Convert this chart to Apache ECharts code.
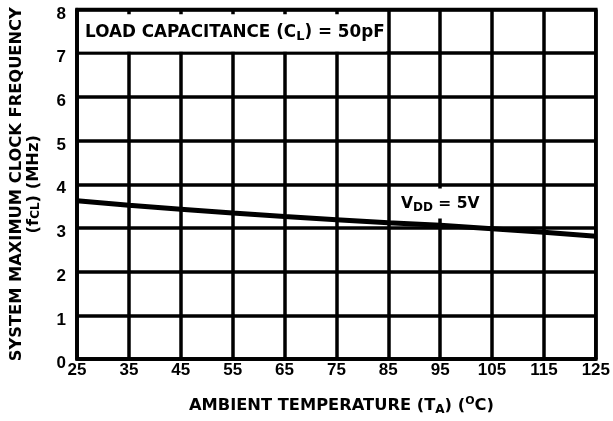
<!DOCTYPE html>
<html><head><meta charset="utf-8">
<script src="https://cdn.jsdelivr.net/npm/echarts@6/dist/echarts.min.js"></script>
<style>html,body{margin:0;padding:0;background:#fff}#c{width:613px;height:421px}</style>
</head><body><div id="c"></div>
<script>
const temps = [25, 35, 45, 55, 65, 75, 85, 95, 105, 115, 125];
const fclVdd5 = [3.62, 3.52, 3.43, 3.34, 3.26, 3.19, 3.12, 3.06, 2.98, 2.90, 2.81];
const xTicks = { min: 25, max: 125, interval: 10 };
const yTicks = { min: 0, max: 8, interval: 1 };
const loadLabel = 'LOAD CAPACITANCE (C{sub|L}) = 50pF';
const vddLabel = 'V{sub|DD} = 5V';
const xTitle = 'AMBIENT TEMPERATURE (T{sub|A}) ({sup|O}C)';
const yTitle1 = 'SYSTEM MAXIMUM CLOCK FREQUENCY';
const yTitle2 = '(f{sub|CL}) (MHz)';

const FONT = '"DejaVu Sans", sans-serif';
const TFONT = '"Liberation Sans", Arial, sans-serif';
const richBase = (fs) => ({
  sub: { fontSize: Math.round(fs*0.75), fontWeight: 'bold', fontFamily: FONT, color: '#000', padding: [Math.round(fs*0.5),0,0,0], verticalAlign: 'bottom' },
  sup: { fontSize: Math.round(fs*0.65), fontWeight: 'bold', fontFamily: FONT, color: '#000', padding: [0,0,Math.round(fs*0.45),0], verticalAlign: 'top' }
});
const LW = 3.5;
const chart = echarts.init(document.getElementById('c'), null, { renderer: 'canvas' });
chart.setOption({
  animation: false,
  backgroundColor: '#fff',
  grid: { left: 77, right: 15, top: 9.5, bottom: 59, show: true, borderColor: '#000', borderWidth: LW, backgroundColor: 'transparent' },
  xAxis: {
    type: 'value', min: xTicks.min, max: xTicks.max, interval: xTicks.interval,
    axisLine: { show: true, lineStyle: { color: '#000', width: LW } },
    axisTick: { show: false },
    splitLine: { show: true, lineStyle: { color: '#000', width: LW } },
    axisLabel: { color: '#000', fontSize: 17, fontWeight: 'bold', fontFamily: TFONT, margin: 3 },
    name: xTitle, nameLocation: 'middle', nameGap: 37,
    nameTextStyle: { color: '#000', fontSize: 16.3, fontWeight: 'bold', fontFamily: FONT, padding: [0, 0, 0, 10], rich: richBase(16.3) }
  },
  yAxis: {
    type: 'value', min: yTicks.min, max: yTicks.max, interval: yTicks.interval,
    axisLine: { show: true, lineStyle: { color: '#000', width: LW } },
    axisTick: { show: false },
    splitLine: { show: true, lineStyle: { color: '#000', width: LW } },
    axisLabel: { color: '#000', fontSize: 17, fontWeight: 'bold', fontFamily: TFONT, margin: 11, verticalAlign: 'top', lineHeight: 9 },
    name: yTitle1 + '\n' + yTitle2, nameLocation: 'middle', nameGap: 35, nameRotate: 90,
    nameTextStyle: { color: '#000', fontSize: 16.3, fontWeight: 'bold', fontFamily: FONT, lineHeight: 17, align: 'center', rich: richBase(16.3) }
  },
  series: [{
    type: 'line',
    data: temps.map((t, i) => [t, fclVdd5[i]]),
    showSymbol: false, symbol: 'none',
    lineStyle: { color: '#000', width: 5 },
    z: 3,
    markArea: {
      silent: true,
      itemStyle: { color: '#fff', opacity: 1 },
      label: {
        show: true, position: 'insideLeft', distance: 6,
        color: '#000', fontSize: 16.8, fontWeight: 'bold', fontFamily: FONT,
        formatter: loadLabel, rich: richBase(16.8)
      },
      data: [[{ coord: [25.4, 7.04] }, { coord: [84.6, 7.89] }]]
    },
    markPoint: {
      silent: true, symbol: 'rect', symbolSize: 0,
      label: {
        show: true, position: 'inside',
        color: '#000', fontSize: 15.5, fontWeight: 'bold', fontFamily: FONT,
        backgroundColor: '#fff', padding: [5, 6, 5, 6],
        formatter: vddLabel, rich: richBase(15.5)
      },
      data: [{ coord: [95, 3.56] }]
    }
  }]
});
</script></body></html>
